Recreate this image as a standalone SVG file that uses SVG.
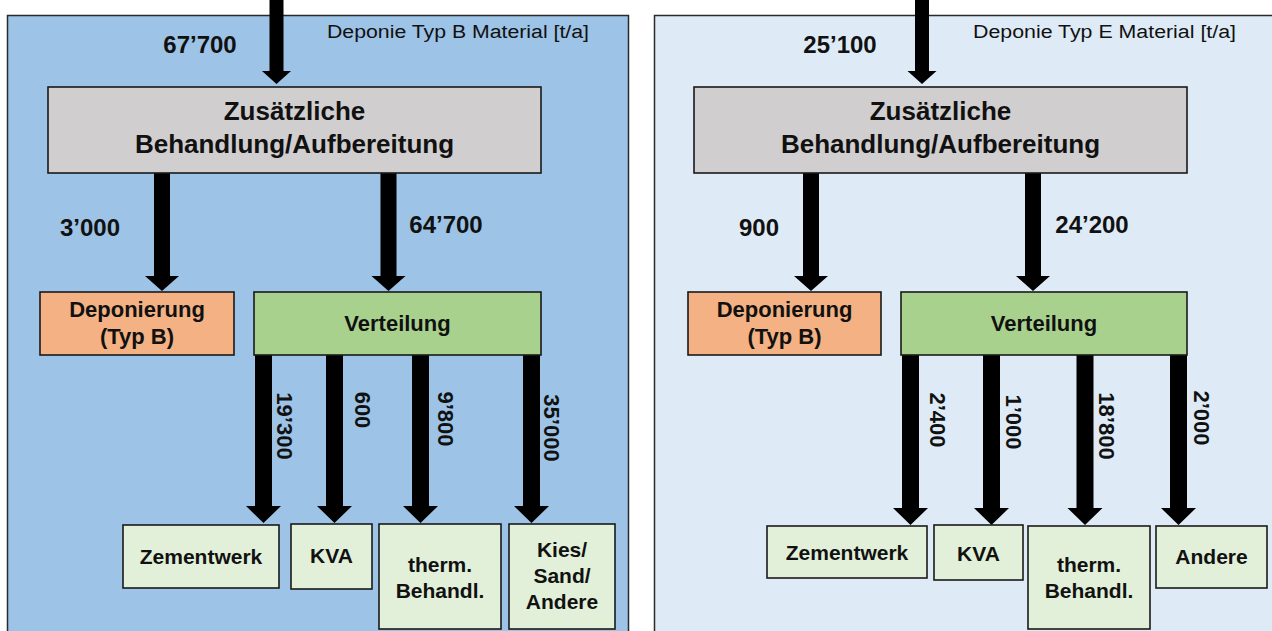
<svg xmlns="http://www.w3.org/2000/svg" width="1272" height="631" viewBox="0 0 1272 631">
<style>
text{font-family:"Liberation Sans",Arial,sans-serif;fill:#111}
.b{font-weight:bold}
.t{font-size:26px;font-weight:bold;text-anchor:middle}
.n{font-size:24px;font-weight:bold}
.m{font-size:22px;font-weight:bold;text-anchor:middle}
.s{font-size:21px;font-weight:bold;text-anchor:middle}
.r{font-size:22px;font-weight:bold;text-anchor:middle}
.h{font-size:18px}
.box{stroke:#1a1a1a;stroke-width:1.6}
.gray{fill:#D0CECE}.org{fill:#F4B183}.grn{fill:#A9D18E}.lg{fill:#E2F0D9}
.arr{fill:#000}
</style>
<rect id="panel-left" x="7.5" y="15.5" width="621" height="640" fill="#9DC3E6" stroke="#2a2a2a" stroke-width="1.5"/>
<rect id="panel-right" x="654.5" y="15.5" width="640" height="640" fill="#DEEBF7" stroke="#2a2a2a" stroke-width="1.5"/>
<text class="h" x="327" y="38" textLength="262" lengthAdjust="spacingAndGlyphs">Deponie Typ B Material [t/a]</text>
<text class="h" x="973" y="38" textLength="263" lengthAdjust="spacingAndGlyphs">Deponie Typ E Material [t/a]</text>

<g id="connectors">
  <path class="arr" d="M269.5,0 H283.5 V71 H291 L276.5,84 L262,71 H269.5 Z"/>
  <path class="arr" d="M154,173 H170 V276 H179 L162,291 L145,276 H154 Z"/>
  <path class="arr" d="M380.5,173 H396.5 V276 H405.5 L388.5,291 L371.5,276 H380.5 Z"/>
  <path class="arr" d="M255,355 H272 V506 H281 L263.5,523 L246,506 H255 Z"/>
  <path class="arr" d="M326,355 H343 V506 H352 L334.5,523 L317,506 H326 Z"/>
  <path class="arr" d="M412,355 H429 V506 H438 L420.5,523 L403,506 H412 Z"/>
  <path class="arr" d="M523,355 H540 V506 H549 L531.5,523 L514,506 H523 Z"/>
  <path class="arr" d="M915,0 H929 V71 H936.5 L922,84 L907.5,71 H915 Z"/>
  <path class="arr" d="M803,173 H819 V276 H828 L811,291 L794,276 H803 Z"/>
  <path class="arr" d="M1025,173 H1041 V276 H1050 L1033,291 L1016,276 H1025 Z"/>
  <path class="arr" d="M902,355 H919 V508 H928 L910.5,525 L893,508 H902 Z"/>
  <path class="arr" d="M983,355 H1000 V508 H1009 L991.5,525 L974,508 H983 Z"/>
  <path class="arr" d="M1076.5,355 H1093.5 V508 H1102.5 L1085,525 L1067.5,508 H1076.5 Z"/>
  <path class="arr" d="M1170,355 H1187 V508 H1196 L1178.5,525 L1161,508 H1170 Z"/>
  <text class="n" x="200" y="53" text-anchor="middle">67’700</text>
  <text class="n" x="90" y="236" text-anchor="middle">3’000</text>
  <text class="n" x="446" y="233" text-anchor="middle">64’700</text>
  <text class="n" x="840" y="53" text-anchor="middle">25’100</text>
  <text class="n" x="759" y="236" text-anchor="middle">900</text>
  <text class="n" x="1092" y="233" text-anchor="middle">24’200</text>
  <text class="r" transform="translate(284.5,426) rotate(90)" y="8">19’300</text>
  <text class="r" transform="translate(362.5,410) rotate(90)" y="8">600</text>
  <text class="r" transform="translate(446,419) rotate(90)" y="8">9’800</text>
  <text class="r" transform="translate(552,428) rotate(90)" y="8">35’000</text>
  <text class="r" transform="translate(937.5,420) rotate(90)" y="8">2’400</text>
  <text class="r" transform="translate(1014,422) rotate(90)" y="8">1’000</text>
  <text class="r" transform="translate(1107,426) rotate(90)" y="8">18’800</text>
  <text class="r" transform="translate(1202,418) rotate(90)" y="8">2’000</text>
</g>

<g id="L-treat"><rect class="box gray" x="48" y="87" width="493" height="86"/><text class="t" x="294.5" y="120">Zusätzliche</text><text class="t" x="294.5" y="153">Behandlung/Aufbereitung</text></g>
<g id="L-depo"><rect class="box org" x="40" y="292" width="194" height="63"/><text class="m" x="137" y="317">Deponierung</text><text class="m" x="137" y="344">(Typ B)</text></g>
<g id="L-vert"><rect class="box grn" x="254" y="292" width="287" height="63"/><text class="m" x="397.5" y="331">Verteilung</text></g>
<g id="L-zem"><rect class="box lg" x="123" y="525" width="156" height="63"/><text class="s" x="201" y="564">Zementwerk</text></g>
<g id="L-kva"><rect class="box lg" x="291" y="524" width="81" height="65"/><text class="s" x="331.5" y="563">KVA</text></g>
<g id="L-therm"><rect class="box lg" x="379" y="524" width="122" height="105"/><text class="s" x="440" y="572">therm.</text><text class="s" x="440" y="598">Behandl.</text></g>
<g id="L-kies"><rect class="box lg" x="509" y="524" width="106" height="105"/><text class="s" x="562" y="557">Kies/</text><text class="s" x="562" y="583">Sand/</text><text class="s" x="562" y="609">Andere</text></g>

<g id="R-treat"><rect class="box gray" x="694" y="87" width="493" height="86"/><text class="t" x="940.5" y="120">Zusätzliche</text><text class="t" x="940.5" y="153">Behandlung/Aufbereitung</text></g>
<g id="R-depo"><rect class="box org" x="688" y="292" width="193" height="63"/><text class="m" x="784.5" y="317">Deponierung</text><text class="m" x="784.5" y="344">(Typ B)</text></g>
<g id="R-vert"><rect class="box grn" x="901" y="292" width="286" height="63"/><text class="m" x="1044" y="331">Verteilung</text></g>
<g id="R-zem"><rect class="box lg" x="767" y="526" width="160" height="52"/><text class="s" x="847" y="560">Zementwerk</text></g>
<g id="R-kva"><rect class="box lg" x="934" y="525" width="89" height="55"/><text class="s" x="978.5" y="561">KVA</text></g>
<g id="R-therm"><rect class="box lg" x="1028" y="526" width="122" height="103"/><text class="s" x="1089" y="572">therm.</text><text class="s" x="1089" y="598">Behandl.</text></g>
<g id="R-and"><rect class="box lg" x="1156" y="526" width="111" height="62"/><text class="s" x="1211.5" y="564">Andere</text></g>
</svg>
